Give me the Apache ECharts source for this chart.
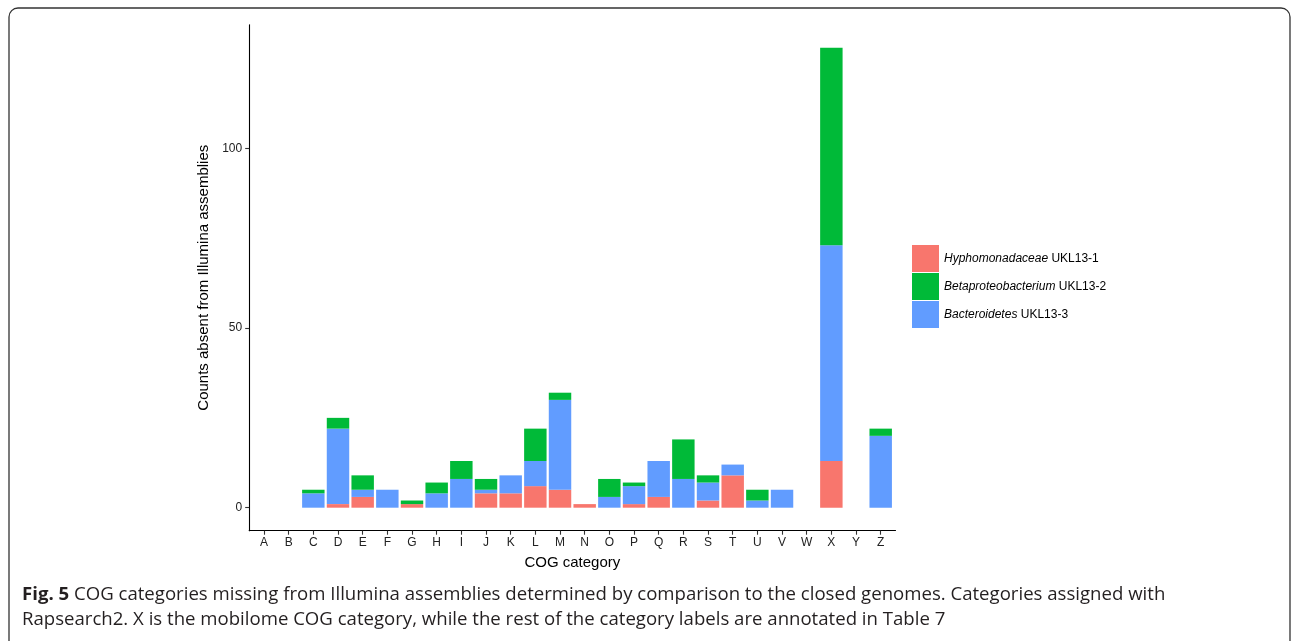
<!DOCTYPE html>
<html>
<head>
<meta charset="utf-8">
<title>COG categories missing from Illumina assemblies</title>
<script src="https://cdn.jsdelivr.net/npm/echarts@6/dist/echarts.min.js"></script>
<style>
  html, body { margin: 0; padding: 0; background: #fff; }
  #chart { width: 1292px; height: 641px; }
</style>
</head>
<body>
<div id="chart"></div>
<script>
// COG category letters along the x axis
const categories = ['A','B','C','D','E','F','G','H','I','J','K','L','M','N','O','P','Q','R','S','T','U','V','W','X','Y','Z'];

// Counts absent from Illumina assemblies, per genome and COG category
const hyphomonadaceae     = [0,0,0,1,3,0,1,0,0,4,4,6,5,1,0,1,3,0,2,9,0,0,0,13,0,0];
const bacteroidetes       = [0,0,4,21,2,5,0,4,8,1,5,7,25,0,3,5,10,8,5,3,2,5,0,60,0,20];
const betaproteobacterium = [0,0,1,3,4,0,1,3,5,3,0,9,2,0,5,1,0,11,2,0,3,0,0,55,0,2];

// Y axis tick values
const yTicks = [0, 50, 100];

const seriesNames = {
  hyph: 'Hyphomonadaceae UKL13-1',
  beta: 'Betaproteobacterium UKL13-2',
  bact: 'Bacteroidetes UKL13-3'
};

// Panel geometry: the discrete axis is padded by 0.6 of a band on both sides
const panel = { left: 249.2, right: 895.5, top: 24.7, bottom: 530.7 };
const pad = 0.6;
const nCat = categories.length;
const step = (panel.right - panel.left) / (nCat - 1 + 2 * pad);
const barsLeft = panel.left + (pad - 0.5) * step;
const barsWidth = nCat * step;

const yMin = -6.4, yMax = 134.4;
const catIndex = categories.map((c, i) => i);
const axisFont = 'Liberation Sans, Arial, Helvetica, sans-serif';
const W = 1292, H = 641;

const chart = echarts.init(document.getElementById('chart'), null, { renderer: 'canvas' });

function barSeries(name, values, color) {
  return {
    name: name,
    type: 'bar',
    stack: 'cog',
    xAxisIndex: 1,
    yAxisIndex: 1,
    barWidth: '91%',
    itemStyle: { color: color },
    emphasis: { disabled: true },
    data: values
  };
}

chart.setOption({
  animation: false,
  backgroundColor: '#ffffff',
  grid: [
    // visible panel frame with axes, ticks and labels
    { left: panel.left, width: panel.right - panel.left, top: panel.top, height: panel.bottom - panel.top, containLabel: false },
    // bar layer: one band per category, aligned to the tick positions above
    { left: barsLeft, width: barsWidth, top: panel.top, height: panel.bottom - panel.top, containLabel: false }
  ],
  xAxis: [
    {
      gridIndex: 0,
      type: 'value',
      min: -pad,
      max: nCat - 1 + pad,
      name: 'COG category',
      nameLocation: 'middle',
      nameGap: 25,
      nameTextStyle: { fontFamily: axisFont, fontSize: 15, color: '#000' },
      axisLine: { show: true, onZero: false, lineStyle: { color: '#000', width: 1.1 } },
      axisTick: { show: true, length: 4, customValues: catIndex, lineStyle: { color: '#333', width: 1.1 } },
      axisLabel: {
        customValues: catIndex,
        margin: 6,
        fontFamily: axisFont, fontSize: 12, color: '#222',
        formatter: v => categories[Math.round(v)]
      },
      splitLine: { show: false }
    },
    {
      gridIndex: 1,
      type: 'category',
      data: categories,
      show: false
    }
  ],
  yAxis: [
    {
      gridIndex: 0,
      type: 'value',
      min: yMin,
      max: yMax,
      name: 'Counts absent from Illumina assemblies',
      nameLocation: 'middle',
      nameGap: 37,
      nameTextStyle: { fontFamily: axisFont, fontSize: 15, color: '#000' },
      axisLine: { show: true, onZero: false, lineStyle: { color: '#000', width: 1.1 } },
      axisTick: { show: true, length: 4, customValues: yTicks, lineStyle: { color: '#333', width: 1.1 } },
      axisLabel: {
        customValues: yTicks,
        margin: 7,
        fontFamily: axisFont, fontSize: 12, color: '#222'
      },
      splitLine: { show: false }
    },
    {
      gridIndex: 1,
      type: 'value',
      min: yMin,
      max: yMax,
      show: false,
      splitLine: { show: false }
    }
  ],
  legend: {
    orient: 'vertical',
    left: 912,
    top: 245,
    padding: 0,
    itemWidth: 27,
    itemHeight: 27,
    itemGap: 1,
    icon: 'rect',
    selectedMode: false,
    data: [seriesNames.hyph, seriesNames.beta, seriesNames.bact],
    formatter: name => {
      const parts = name.split(' ');
      return '{i|' + parts[0] + '} ' + parts.slice(1).join(' ');
    },
    textStyle: {
      fontFamily: axisFont, fontSize: 12, color: '#000',
      rich: { i: { fontFamily: axisFont, fontSize: 12, fontStyle: 'italic', color: '#000' } }
    }
  },
  series: [
    barSeries(seriesNames.hyph, hyphomonadaceae, '#F8766D'),
    barSeries(seriesNames.bact, bacteroidetes, '#619CFF'),
    barSeries(seriesNames.beta, betaproteobacterium, '#00BA38')
  ],
  graphic: [
    {
      type: 'rect',
      silent: true,
      shape: { x: 9, y: 8, width: 1281, height: 720, r: 9 },
      style: { fill: 'none', stroke: '#333', lineWidth: 1.3 }
    },
    {
      type: 'text',
      silent: true,
      left: 22,
      top: 582,
      style: {
        text: '{b|Fig. 5} COG categories missing from Illumina assemblies determined by comparison to the closed genomes. Categories assigned with\nRapsearch2. X is the mobilome COG category, while the rest of the category labels are annotated in Table 7',
        fontFamily: 'Open Sans, Noto Sans, sans-serif',
        fontSize: 18.6,
        lineHeight: 25,
        fill: '#231f20',
        rich: {
          b: { fontFamily: 'Open Sans, Noto Sans, sans-serif', fontSize: 18.6, fontWeight: 'bold', fill: '#231f20', lineHeight: 25 }
        }
      }
    }
  ]
});
</script>
</body>
</html>
